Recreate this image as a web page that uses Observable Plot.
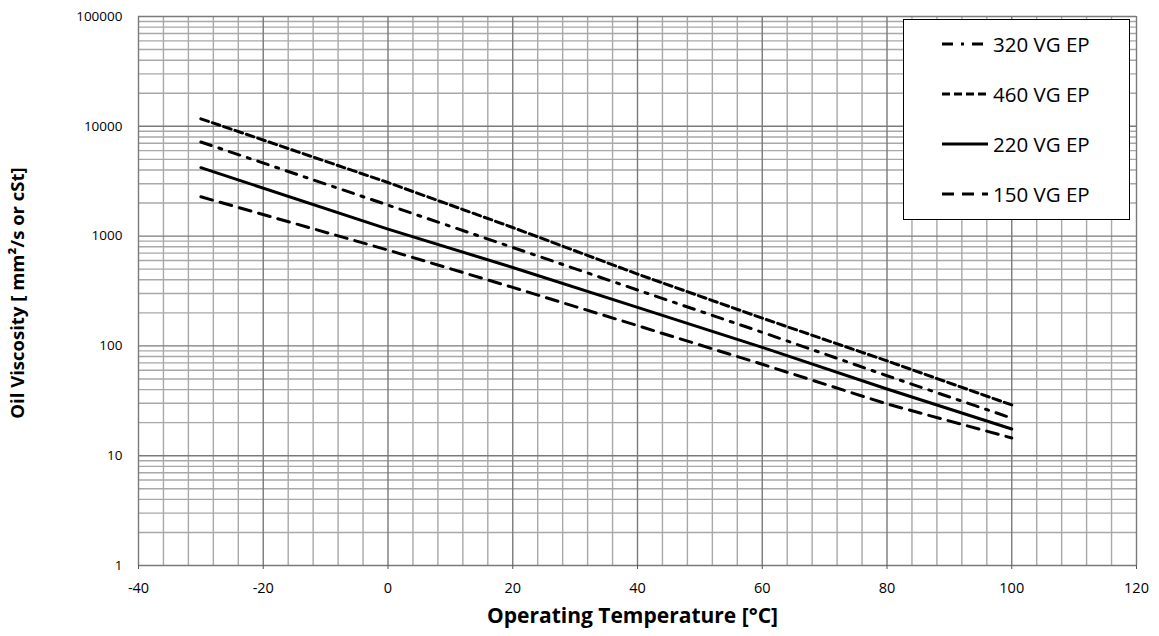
<!DOCTYPE html>
<html>
<head>
<meta charset="utf-8">
<script src="https://cdn.jsdelivr.net/npm/d3@7"></script>
<script src="https://cdn.jsdelivr.net/npm/@observablehq/plot@0.6"></script>
<style>
  body { margin: 0; background: white; }
  #wrap { position: relative; width: 1159px; height: 636px; background: white; }
  #wrap g[aria-label="x-axis tick label"] { font-size: 14.5px !important; }
  #wrap g[aria-label="y-axis tick label"] { font-size: 13.5px !important; }
  #legend {
    position: absolute; left: 903px; top: 19px; width: 227px; height: 201px;
    border: 1.5px solid #000; background: white; box-sizing: border-box;
    font-family: "Open Sans", sans-serif; font-size: 20.5px; color: #000;
  }
  .row { position: absolute; left: 38px; height: 26px; display: flex; align-items: center; }
  .row svg { margin-right: 5px; }
</style>
</head>
<body>
<div id="wrap"><div id="legend"></div></div>
<script>
// Data
const temps = [-30, 0, 20, 40, 60, 80, 100];
const v460 = [11700, 3075, 1197, 451, 179, 73, 29];
const v320 = [7200, 1915, 788, 323, 133, 53.5, 22];
const v220 = [4200, 1158, 518, 224, 97, 40.5, 17.5];
const v150 = [2280, 746, 341, 153, 68, 29.6, 14.5];

const xTicks = [-40, -20, 0, 20, 40, 60, 80, 100, 120];
const yTicks = [1, 10, 100, 1000, 10000, 100000];

const series = [
  {name: "320 VG EP", values: v320, dash: "11,8,3,8"},
  {name: "460 VG EP", values: v460, dash: "8,4"},
  {name: "220 VG EP", values: v220, dash: null},
  {name: "150 VG EP", values: v150, dash: "12,8"}
];

const xMinor = d3.range(-40, 121, 4).filter(d => d % 20 !== 0);
const yMinor = [];
for (let k = 0; k < 5; k++) for (let m = 2; m <= 9; m++) yMinor.push(m * Math.pow(10, k));

const lineMarks = series.map(s =>
  Plot.line(temps.map((t, i) => ({t, v: s.values[i]})), {
    x: "t", y: "v", stroke: "#000", strokeWidth: 3,
    strokeDasharray: s.dash || undefined
  })
);

const chart = Plot.plot({
  width: 1159, height: 636,
  marginLeft: 138, marginRight: 23, marginTop: 16, marginBottom: 71,
  style: {fontFamily: "Open Sans, sans-serif", fontSize: "13.5px", color: "#000", background: "white"},
  x: {domain: [-40, 120]},
  y: {type: "log", domain: [1, 100000]},
  marks: [
    Plot.ruleX(xMinor, {stroke: "#a8a8a8", strokeWidth: 1.4}),
    Plot.ruleY(yMinor, {stroke: "#a8a8a8", strokeWidth: 1.4}),
    Plot.ruleX(xTicks, {stroke: "#7a7a7a", strokeWidth: 1.4}),
    Plot.ruleY(yTicks, {stroke: "#7a7a7a", strokeWidth: 1.4}),
    Plot.axisX({ticks: xTicks, tickSize: 4, tickPadding: 13, tickFormat: d => String(d), label: null, stroke: "#555"}),
    Plot.axisY({ticks: yTicks, tickSize: 0, tickPadding: 16, tickFormat: d => String(d), label: null}),
    ...lineMarks,
    Plot.text(["Operating Temperature [°C]"], {frameAnchor: "bottom", dy: 57, dx: -5, fontWeight: "bold", fontSize: 21}),
    Plot.text(["Oil Viscosity [ mm²/s or cSt]"], {frameAnchor: "left", dx: -120, dy: 2, rotate: -90, textAnchor: "middle", fontWeight: "bold", fontSize: 18.5})
  ]
});
document.getElementById("wrap").prepend(chart);

// Legend
const legend = document.getElementById("legend");
const rowTops = [11, 61, 111, 161];
series.forEach((s, i) => {
  const row = document.createElement("div");
  row.className = "row";
  row.style.top = rowTops[i] + "px";
  const ns = "http://www.w3.org/2000/svg";
  const svg = document.createElementNS(ns, "svg");
  svg.setAttribute("width", 46); svg.setAttribute("height", 10);
  const ln = document.createElementNS(ns, "line");
  ln.setAttribute("x1", 0); ln.setAttribute("x2", 46);
  ln.setAttribute("y1", 5); ln.setAttribute("y2", 5);
  ln.setAttribute("stroke", "#000"); ln.setAttribute("stroke-width", 3);
  if (s.dash) ln.setAttribute("stroke-dasharray", s.dash);
  svg.appendChild(ln);
  row.appendChild(svg);
  const span = document.createElement("span");
  span.textContent = s.name;
  row.appendChild(span);
  legend.appendChild(row);
});
</script>
</body>
</html>
